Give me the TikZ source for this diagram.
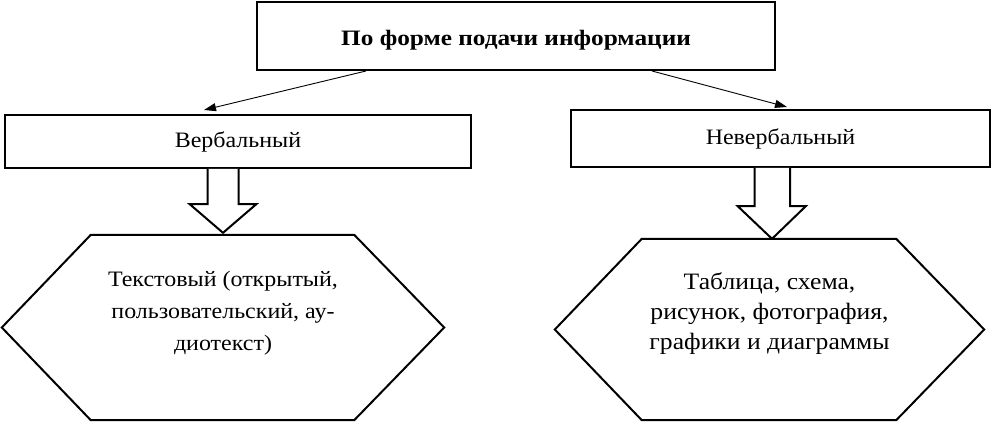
\documentclass[tikz,border=0pt]{standalone}
\usepackage{fontspec}
\setmainfont{Liberation Serif}[FakeStretch=1.09]
\newfontfamily\titlefont{Liberation Serif}[FakeStretch=1.15]
\usetikzlibrary{calc,arrows.meta}
\begin{document}
\begin{tikzpicture}[x=1pt,y=-1pt,
  box/.style={draw, line width=2pt, rectangle, inner sep=0pt, align=center,
    font=\fontsize{22}{32}\selectfont},
  hexnode/.style={rectangle, inner sep=0pt, align=center},
  hexline/.style={line width=2pt, line join=miter},
  thinarrow/.style={line width=0.9pt, -{Triangle[length=12pt,width=8pt]}},
  blockarrow/.style={line width=2pt, fill=white, line join=miter}]
\useasboundingbox (0,0) rectangle (992,422);
\fill[white] (0,0) rectangle (992,422);

\node[box, minimum width=518pt, minimum height=68pt, font=\titlefont\fontsize{22}{32}\selectfont\bfseries]
  (top) at (516,36) {\raisebox{-10pt}[0pt][0pt]{По форме подачи информации}};
\node[box, minimum width=466pt, minimum height=53pt] (verb) at (238,141.5) {Вербальный};
\node[box, minimum width=419pt, minimum height=57pt] (nverb) at (780.5,138.5) {Невербальный};

\node[hexnode, minimum width=442pt, minimum height=185pt, font=\fontsize{22}{32}\selectfont] (hexL) at (223,327.5)
  {Текстовый (открытый,\\пользовательский, ау-\\диотекст)\\[2pt]\mbox{}};
\node[hexnode, minimum width=429pt, minimum height=181pt, font=\fontsize{23.5}{30}\selectfont] (hexR) at (769.5,329.5)
  {Таблица, схема,\\рисунок, фотография,\\графики и диаграммы\\[6pt]\mbox{}};

\draw[hexline] (hexL.west) -- ($(hexL.north west)+(89,0)$) -- ($(hexL.north east)+(-90,0)$)
  -- (hexL.east) -- ($(hexL.south east)+(-90,0)$) -- ($(hexL.south west)+(89,0)$) -- cycle;
\draw[hexline] (hexR.west) -- ($(hexR.north west)+(87,0)$) -- ($(hexR.north east)+(-88,0)$)
  -- (hexR.east) -- ($(hexR.south east)+(-88,0)$) -- ($(hexR.south west)+(87,0)$) -- cycle;

\draw[thinarrow] ($(top.south west)+(110,0)$) -- ($(verb.north west)+(200,-4)$);
\draw[thinarrow] ($(top.south west)+(396,0)$) -- ($(nverb.north west)+(217,-2)$);

\draw[blockarrow] ($(hexL.north |- verb.south)+(-15.5,0)$) -- ++(0,35) -- ++(-18,0)
  -- ($(hexL.north)+(0,-2)$) -- ($(hexL.north |- verb.south)+(33.5,35)$) -- ++(-18,0)
  -- ++(0,-35);
\draw[blockarrow] ($(hexR.north |- nverb.south)+(-15,0)$) -- ++(0,38) -- ++(-17,0)
  -- ($(hexR.north)+(2.5,0)$) -- ($(hexR.north |- nverb.south)+(36.5,38)$) -- ++(-16,0)
  -- ++(0,-38);
\end{tikzpicture}
\end{document}
